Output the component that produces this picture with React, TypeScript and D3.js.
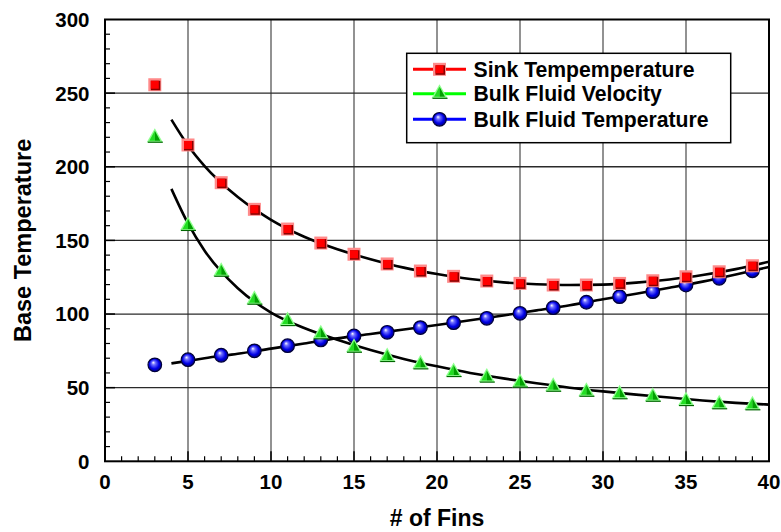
import React, { useEffect } from 'react';
import * as d3 from 'd3';

// measured points
const fins = [3, 5, 7, 9, 11, 13, 15, 17, 19, 21, 23, 25, 27, 29, 31, 33, 35, 37, 39];
const sinkTemp = [255.7, 214.8, 189.2, 171.1, 157.7, 148.2, 140.6, 134, 129.2, 125.6, 122.4, 120.8, 119.7, 119.7, 120.8, 122.6, 125.3, 128.7, 132.8];
const fluidVelocity = [220.4, 160.5, 129.4, 110.4, 95.9, 86.9, 77.8, 71.5, 66.5, 61.3, 57.5, 54.1, 51.3, 47.9, 46.2, 44.5, 41.6, 39.4, 38.7];
const fluidTemp = [65.5, 69, 72, 75, 78.5, 82.4, 85.1, 87.6, 90.8, 94.1, 97.1, 100.5, 104.3, 108, 111.8, 115.2, 119.7, 124.3, 129.4];

// fitted curves (black lines)
const fitX = [4, 5, 6, 8, 10, 12, 14, 16, 18, 20, 22, 24, 26, 28, 30, 32, 34, 36, 38, 40];
const sinkFit = [232, 214.5, 200.5, 179.5, 164, 152.5, 144, 137.2, 131.5, 127.2, 123.8, 121.5, 120.2, 119.7, 120, 121.3, 123.5, 126.5, 130.5, 135.5];
const velocityFit = [185, 161.5, 143, 117.5, 101, 90.5, 82.5, 75.5, 69.5, 64.5, 60, 56.3, 53, 50, 47.5, 45.3, 43.3, 41.3, 39.7, 38.5];
const tempFit = [66.5, 68.2, 70, 73, 76.5, 80, 83.5, 86.5, 89.5, 92.5, 95.8, 99, 102.5, 106, 110, 113.8, 117.8, 122, 126.8, 132];

const xTicks = [0, 5, 10, 15, 20, 25, 30, 35, 40];
const yTicks = [0, 50, 100, 150, 200, 250, 300];
const legendNames = ['Sink Tempemperature', 'Bulk Fluid Velocity', 'Bulk Fluid Temperature'];
const legendColors = ['#ff0000', '#00ff00', '#0000ff'];

const W = 781;
const H = 532;
const font = 'Arial, "Liberation Sans", sans-serif';

function Square({ x, y }: { x: number; y: number }) {
  return (
    <g transform={`translate(${x},${y})`}>
      <rect x={-6.5} y={-6.5} width={13} height={13} fill="#ff8a8a" />
      <rect x={-4} y={-4} width={9.5} height={9.5} fill="#8a0000" />
      <rect x={-4} y={-4} width={8} height={8} fill="#ff0000" />
    </g>
  );
}

function Triangle({ x, y }: { x: number; y: number }) {
  return (
    <g transform={`translate(${x},${y})`}>
      <polygon points="0,-8.5 8,5.5 -8,5.5" fill="#8dff8d" />
      <polygon points="0,-6 -5.5,4 0,4" fill="#22dd22" />
      <polygon points="0,-6 5.5,4 0,4" fill="#00a000" />
      <line x1={-7} y1={5.5} x2={8} y2={5.5} stroke="#006600" strokeWidth={1.2} />
    </g>
  );
}

function Ball({ x, y }: { x: number; y: number }) {
  return <circle cx={x} cy={y} r={6.8} fill="url(#ballGrad)" stroke="#00003a" strokeWidth={1.2} />;
}

export default function App() {
  useEffect(() => {
    document.body.style.margin = '0';
  }, []);

  const margin = { left: 105, right: W - 769, top: 19.5, bottom: H - 461.3 };
  const x = d3.scaleLinear().domain([0, 40]).range([margin.left, W - margin.right]);
  const y = d3.scaleLinear().domain([0, 300]).range([H - margin.bottom, margin.top]);

  const line = d3
    .line<[number, number]>()
    .x((d) => x(d[0]))
    .y((d) => y(d[1]))
    .curve(d3.curveMonotoneX);

  const fits = [sinkFit, velocityFit, tempFit].map((vals) => line(fitX.map((fx, i) => [fx, vals[i]]))!);

  const minorX = d3.range(1, 40).filter((v) => v % 5 !== 0);
  const minorY = d3.range(10, 300, 10).filter((v) => v % 50 !== 0);

  const x0 = x(0), x1 = x(40), y0 = y(0), y1 = y(300);

  const lg = { x: 406.7, y: 53.3, w: 324, h: 89.4 };
  const rowY = [69.3, 93.8, 119.3];

  return (
    <svg width={W} height={H} style={{ display: 'block', background: '#fff' }}>
      <defs>
        <radialGradient id="ballGrad" cx="50%" cy="50%" r="55%" fx="38%" fy="32%">
          <stop offset="0%" stopColor="#ffffff" />
          <stop offset="25%" stopColor="#7070ff" />
          <stop offset="65%" stopColor="#0000e6" />
          <stop offset="100%" stopColor="#00006a" />
        </radialGradient>
      </defs>

      {/* grid */}
      {xTicks.slice(1, -1).map((t) => (
        <line key={'gx' + t} x1={x(t)} x2={x(t)} y1={y1} y2={y0} stroke="#6e6e6e" strokeWidth={1.5} />
      ))}
      {yTicks.slice(1, -1).map((t) => (
        <line key={'gy' + t} x1={x0} x2={x1} y1={y(t)} y2={y(t)} stroke="#2a2a2a" strokeWidth={1.3} />
      ))}

      {/* minor ticks */}
      {minorX.map((t) => (
        <line key={'mx' + t} x1={x(t)} x2={x(t)} y1={y0} y2={y0 - 5} stroke="#000" strokeWidth={1.2} />
      ))}
      {minorY.map((t) => (
        <line key={'my' + t} x1={x0} x2={x0 + 5} y1={y(t)} y2={y(t)} stroke="#000" strokeWidth={1.2} />
      ))}
      {xTicks.slice(1, -1).map((t) => (
        <line key={'Mx' + t} x1={x(t)} x2={x(t)} y1={y0} y2={y0 - 10} stroke="#000" strokeWidth={1.5} />
      ))}
      {yTicks.slice(1, -1).map((t) => (
        <line key={'My' + t} x1={x0} x2={x0 + 10} y1={y(t)} y2={y(t)} stroke="#000" strokeWidth={1.5} />
      ))}

      {/* frame */}
      <rect x={x0} y={y1} width={x1 - x0} height={y0 - y1} fill="none" stroke="#000" strokeWidth={2} />

      {/* tick labels */}
      {xTicks.map((t) => (
        <text key={'tx' + t} x={x(t)} y={489.3} textAnchor="middle" fontFamily={font} fontWeight="bold" fontSize={20.5}>
          {t}
        </text>
      ))}
      {yTicks.map((t) => (
        <text key={'ty' + t} x={89.5} y={y(t)} dy="0.36em" textAnchor="end" fontFamily={font} fontWeight="bold" fontSize={20.5}>
          {t}
        </text>
      ))}

      {/* axis titles */}
      <text x={(x0 + x1) / 2} y={526} textAnchor="middle" fontFamily={font} fontWeight="bold" fontSize={23}>
        # of Fins
      </text>
      <text
        transform={`translate(30.5,${(y0 + y1) / 2}) rotate(-90)`}
        textAnchor="middle"
        fontFamily={font}
        fontWeight="bold"
        fontSize={23.5}
      >
        Base Temperature
      </text>

      {/* fitted curves */}
      {fits.map((p, i) => (
        <path key={'fit' + i} d={p} fill="none" stroke="#000" strokeWidth={2.6} />
      ))}

      {/* markers */}
      {fins.map((f, i) => <Ball key={'b' + f} x={x(f)} y={y(fluidTemp[i])} />)}
      {fins.map((f, i) => <Square key={'s' + f} x={x(f)} y={y(sinkTemp[i])} />)}
      {fins.map((f, i) => <Triangle key={'t' + f} x={x(f)} y={y(fluidVelocity[i])} />)}

      {/* legend */}
      <rect x={lg.x} y={lg.y} width={lg.w} height={lg.h} fill="#fff" stroke="#000" strokeWidth={1.5} />
      {legendNames.map((name, i) => (
        <g key={name}>
          <line x1={413} x2={466} y1={rowY[i]} y2={rowY[i]} stroke={legendColors[i]} strokeWidth={3} />
          {i === 0 && <Square x={439.5} y={rowY[i]} />}
          {i === 1 && <Triangle x={439.5} y={rowY[i] - 1} />}
          {i === 2 && <Ball x={439.5} y={rowY[i]} />}
          <text x={473.5} y={rowY[i]} dy="0.36em" fontFamily={font} fontWeight="bold" fontSize={21.2}>
            {name}
          </text>
        </g>
      ))}
    </svg>
  );
}
